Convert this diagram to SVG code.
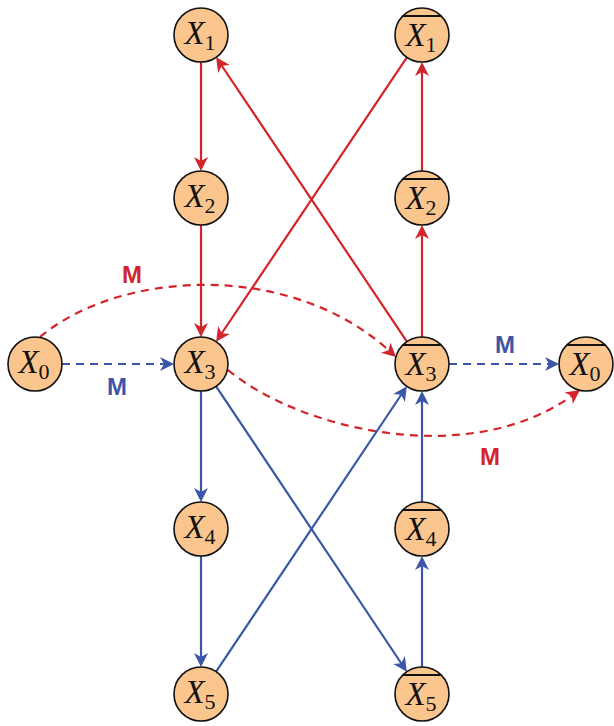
<svg xmlns="http://www.w3.org/2000/svg" width="614" height="726" viewBox="0 0 614 726">
<style>
.node circle{fill:#fbc58e;stroke:#111;stroke-width:1.6}
.bar{stroke:#111;stroke-width:2.2}
.r{stroke:#d3232b;stroke-width:2.2;fill:none}
.b{stroke:#3a56a8;stroke-width:2.2;fill:none}
.d{stroke-dasharray:8 6}
.ra{marker-end:url(#ar)}
.ba{marker-end:url(#ab)}
</style>
<defs>
<marker id="ar" viewBox="-8 -8 18 16" refX="0" refY="0" markerWidth="18" markerHeight="16" markerUnits="userSpaceOnUse" orient="auto">
<path d="M8,0 L-6,-7 L-2,0 L-6,7 Z" fill="#d3232b"/>
</marker>
<marker id="ab" viewBox="-8 -8 18 16" refX="0" refY="0" markerWidth="18" markerHeight="16" markerUnits="userSpaceOnUse" orient="auto">
<path d="M8,0 L-6,-7 L-2,0 L-6,7 Z" fill="#3a56a8"/>
</marker>
</defs>
<g id="connectors">
<path class="r ra" d="M201,62 L201,163"/>
<path class="r ra" d="M201,225 L201,329"/>
<path class="r ra" d="M422,171 L422,70"/>
<path class="r ra" d="M422,337 L422,233"/>
<path class="r ra" d="M406.9,57.4 L220.6,335"/>
<path class="r ra" d="M406.9,341.6 L220.6,64"/>
<path class="r d ra" d="M40,337 C120,270 290,260 390.1,351.6"/>
<path class="r d ra" d="M228,370 C300,430 470,470 573.5,394.7"/>
<path class="b d ba" d="M62,364 L166,364"/>
<path class="b d ba" d="M449,364 L551,364"/>
<path class="b ba" d="M201,391 L201,494"/>
<path class="b ba" d="M201,556 L201,659"/>
<path class="b ba" d="M422,667 L422,564"/>
<path class="b ba" d="M422,502 L422,399"/>
<path class="b ba" d="M216.1,386.4 L402.4,665"/>
<path class="b ba" d="M216.1,671.6 L402.4,393"/>
<g font-family="Liberation Sans, Arial, sans-serif" font-weight="bold" font-size="24" text-anchor="middle">
<text x="132" y="283" fill="#d3232b">M</text>
<text x="117" y="395" fill="#3a56a8">M</text>
<text x="505" y="353" fill="#3a56a8">M</text>
<text x="490" y="465" fill="#d3232b">M</text>
</g>
</g>
<g font-family="Liberation Serif, serif" font-style="italic" font-size="33" fill="#111" text-anchor="middle">
<g id="X1" class="node"><circle cx="201" cy="35" r="27"/><text x="200" y="44">X<tspan font-style="normal" font-size="22" dy="6">1</tspan></text></g>
<g id="X2" class="node"><circle cx="201" cy="198" r="27"/><text x="200" y="207">X<tspan font-style="normal" font-size="22" dy="6">2</tspan></text></g>
<g id="X3" class="node"><circle cx="201" cy="364" r="27"/><text x="200" y="373">X<tspan font-style="normal" font-size="22" dy="6">3</tspan></text></g>
<g id="X4" class="node"><circle cx="201" cy="529" r="27"/><text x="200" y="538">X<tspan font-style="normal" font-size="22" dy="6">4</tspan></text></g>
<g id="X5" class="node"><circle cx="201" cy="694" r="27"/><text x="200" y="703">X<tspan font-style="normal" font-size="22" dy="6">5</tspan></text></g>
<g id="X0" class="node"><circle cx="35" cy="364" r="27"/><text x="34" y="373">X<tspan font-style="normal" font-size="22" dy="6">0</tspan></text></g>
<g id="X1bar" class="node"><circle cx="422" cy="35" r="27"/><line class="bar" x1="402.5" y1="16" x2="441.5" y2="16"/><text x="421" y="46">X<tspan font-style="normal" font-size="22" dy="6">1</tspan></text></g>
<g id="X2bar" class="node"><circle cx="422" cy="198" r="27"/><line class="bar" x1="402.5" y1="179" x2="441.5" y2="179"/><text x="421" y="209">X<tspan font-style="normal" font-size="22" dy="6">2</tspan></text></g>
<g id="X3bar" class="node"><circle cx="422" cy="364" r="27"/><line class="bar" x1="402.5" y1="345" x2="441.5" y2="345"/><text x="421" y="375">X<tspan font-style="normal" font-size="22" dy="6">3</tspan></text></g>
<g id="X4bar" class="node"><circle cx="422" cy="529" r="27"/><line class="bar" x1="402.5" y1="510" x2="441.5" y2="510"/><text x="421" y="540">X<tspan font-style="normal" font-size="22" dy="6">4</tspan></text></g>
<g id="X5bar" class="node"><circle cx="422" cy="694" r="27"/><line class="bar" x1="402.5" y1="675" x2="441.5" y2="675"/><text x="421" y="705">X<tspan font-style="normal" font-size="22" dy="6">5</tspan></text></g>
<g id="X0bar" class="node"><circle cx="586" cy="364" r="27"/><line class="bar" x1="566.5" y1="345" x2="605.5" y2="345"/><text x="585" y="375">X<tspan font-style="normal" font-size="22" dy="6">0</tspan></text></g>
</g>
</svg>
